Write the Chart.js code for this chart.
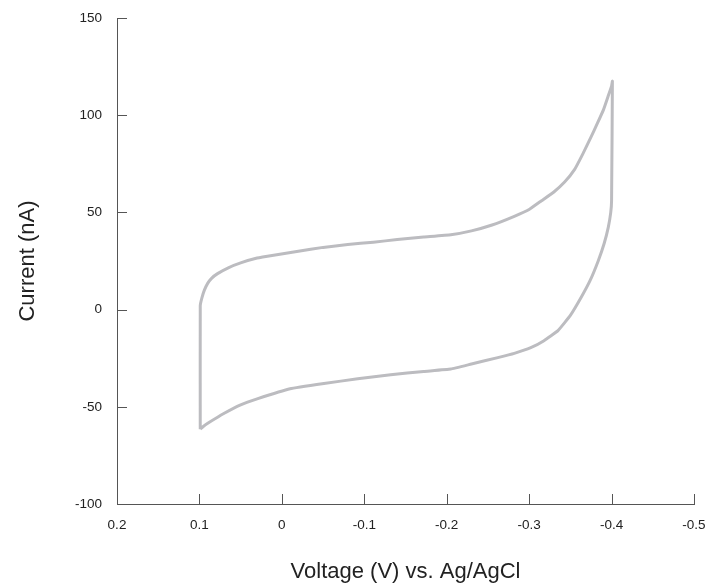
<!DOCTYPE html>
<html>
<head>
<meta charset="utf-8">
<script src="https://cdn.jsdelivr.net/npm/chart.js@4.4.0/dist/chart.umd.min.js"></script>
<style>
  html, body { margin: 0; padding: 0; background: #fff; }
  #wrap { width: 710px; height: 587px; }
</style>
</head>
<body>
<div id="wrap"><canvas id="cv"></canvas></div>
<script>
// scan, in order (V, nA)
const voltage = [
  0.099, 0.099, 0.097, 0.094, 0.09, 0.085, 0.078, 0.065, 0.05, 0.03, 0.01, -0.02, -0.05, -0.08, -0.111,
  -0.14, -0.172, -0.205, -0.23, -0.255, -0.282, -0.3, -0.315, -0.33, -0.343, -0.355,
  -0.365, -0.375, -0.383, -0.39, -0.396, -0.4, -0.401, -0.4, -0.399, -0.396, -0.391,
  -0.384, -0.374, -0.363, -0.35, -0.335, -0.318, -0.302, -0.282, -0.262, -0.23, -0.205,
  -0.172, -0.132, -0.092, -0.051, -0.01, 0.03, 0.05, 0.071, 0.088, 0.095, 0.099
];
const current = [
  -61.5, 2, 6, 10, 13.5, 16.2, 18.5, 21.5, 24, 26.5, 28, 30, 32, 33.5, 34.7,
  36, 37.3, 38.5, 40.5, 43.5, 48, 51.5, 56, 60.5, 65.6, 72,
  80, 88.7, 96, 102.6, 110, 115, 117.5, 56, 50, 42.3, 34,
  25.3, 15, 6.2, -3, -10.8, -16, -19.6, -22.5, -24.7, -28, -30.6,
  -31.8, -33.5, -35.6, -38, -40.7, -45.9, -49, -53.6, -58, -60, -61.5
];
const xTicks = [0.2, 0.1, 0, -0.1, -0.2, -0.3, -0.4, -0.5];
const yTicks = [-100, -50, 0, 50, 100, 150];

const points = voltage.map((v, i) => ({ x: v, y: current[i] }));

const axisColor = "#555555";
const font = "'Liberation Sans', Arial, sans-serif";

// short tick marks pointing into the plot, like the original
const innerTicks = {
  id: "innerTicks",
  afterDraw(chart) {
    const ctx = chart.ctx;
    const xs = chart.scales.x, ys = chart.scales.y;
    const area = chart.chartArea;
    ctx.save();
    ctx.strokeStyle = axisColor;
    ctx.lineWidth = 1;
    ctx.beginPath();
    xTicks.forEach(t => {
      const px = Math.round(xs.getPixelForValue(t)) + 0.5;
      ctx.moveTo(px, area.bottom);
      ctx.lineTo(px, area.bottom - 10);
    });
    yTicks.forEach(t => {
      const py = Math.round(ys.getPixelForValue(t)) + 0.5;
      ctx.moveTo(area.left, py);
      ctx.lineTo(area.left + 10, py);
    });
    ctx.stroke();
    ctx.restore();
  }
};

new Chart(document.getElementById("cv"), {
  type: "scatter",
  data: {
    datasets: [{
      data: points,
      showLine: true,
      borderColor: "#bcbcc0",
      borderWidth: 3,
      pointRadius: 0,
      tension: 0.1,
      fill: false
    }]
  },
  options: {
    responsive: true,
    maintainAspectRatio: false,
    animation: false,
    layout: { padding: { top: 18, right: 16, left: 0, bottom: 0 } },
    plugins: { legend: { display: false }, tooltip: { enabled: false } },
    scales: {
      x: {
        type: "linear",
        reverse: true,
        min: -0.5,
        max: 0.2,
        afterBuildTicks: s => { s.ticks = xTicks.map(v => ({ value: v })); },
        afterFit: s => { s.height = 83; s.paddingLeft = 0; s.paddingRight = 0; },
        ticks: {
          callback: v => String(Math.round(v * 10) / 10),
          color: "#222",
          font: { family: font, size: 13.5 },
          padding: 13,
          maxRotation: 0
        },
        grid: { drawOnChartArea: false, drawTicks: false },
        border: { color: axisColor, width: 1 },
        title: {
          display: true,
          text: "Voltage (V) vs. Ag/AgCl",
          color: "#222",
          font: { family: font, size: 22 },
          padding: { top: 20, bottom: 2 }
        }
      },
      y: {
        min: -100,
        max: 150,
        afterBuildTicks: s => { s.ticks = yTicks.map(v => ({ value: v })); },
        afterFit: s => { s.width = 117; s.paddingTop = 0; s.paddingBottom = 0; },
        ticks: {
          color: "#222",
          font: { family: font, size: 13.5 },
          padding: 15
        },
        grid: { drawOnChartArea: false, drawTicks: false },
        border: { color: axisColor, width: 1 },
        title: {
          display: true,
          text: "Current (nA)",
          color: "#222",
          font: { family: font, size: 22 },
          padding: { top: 15, bottom: 0 }
        }
      }
    }
  },
  plugins: [innerTicks]
});
</script>
</body>
</html>
